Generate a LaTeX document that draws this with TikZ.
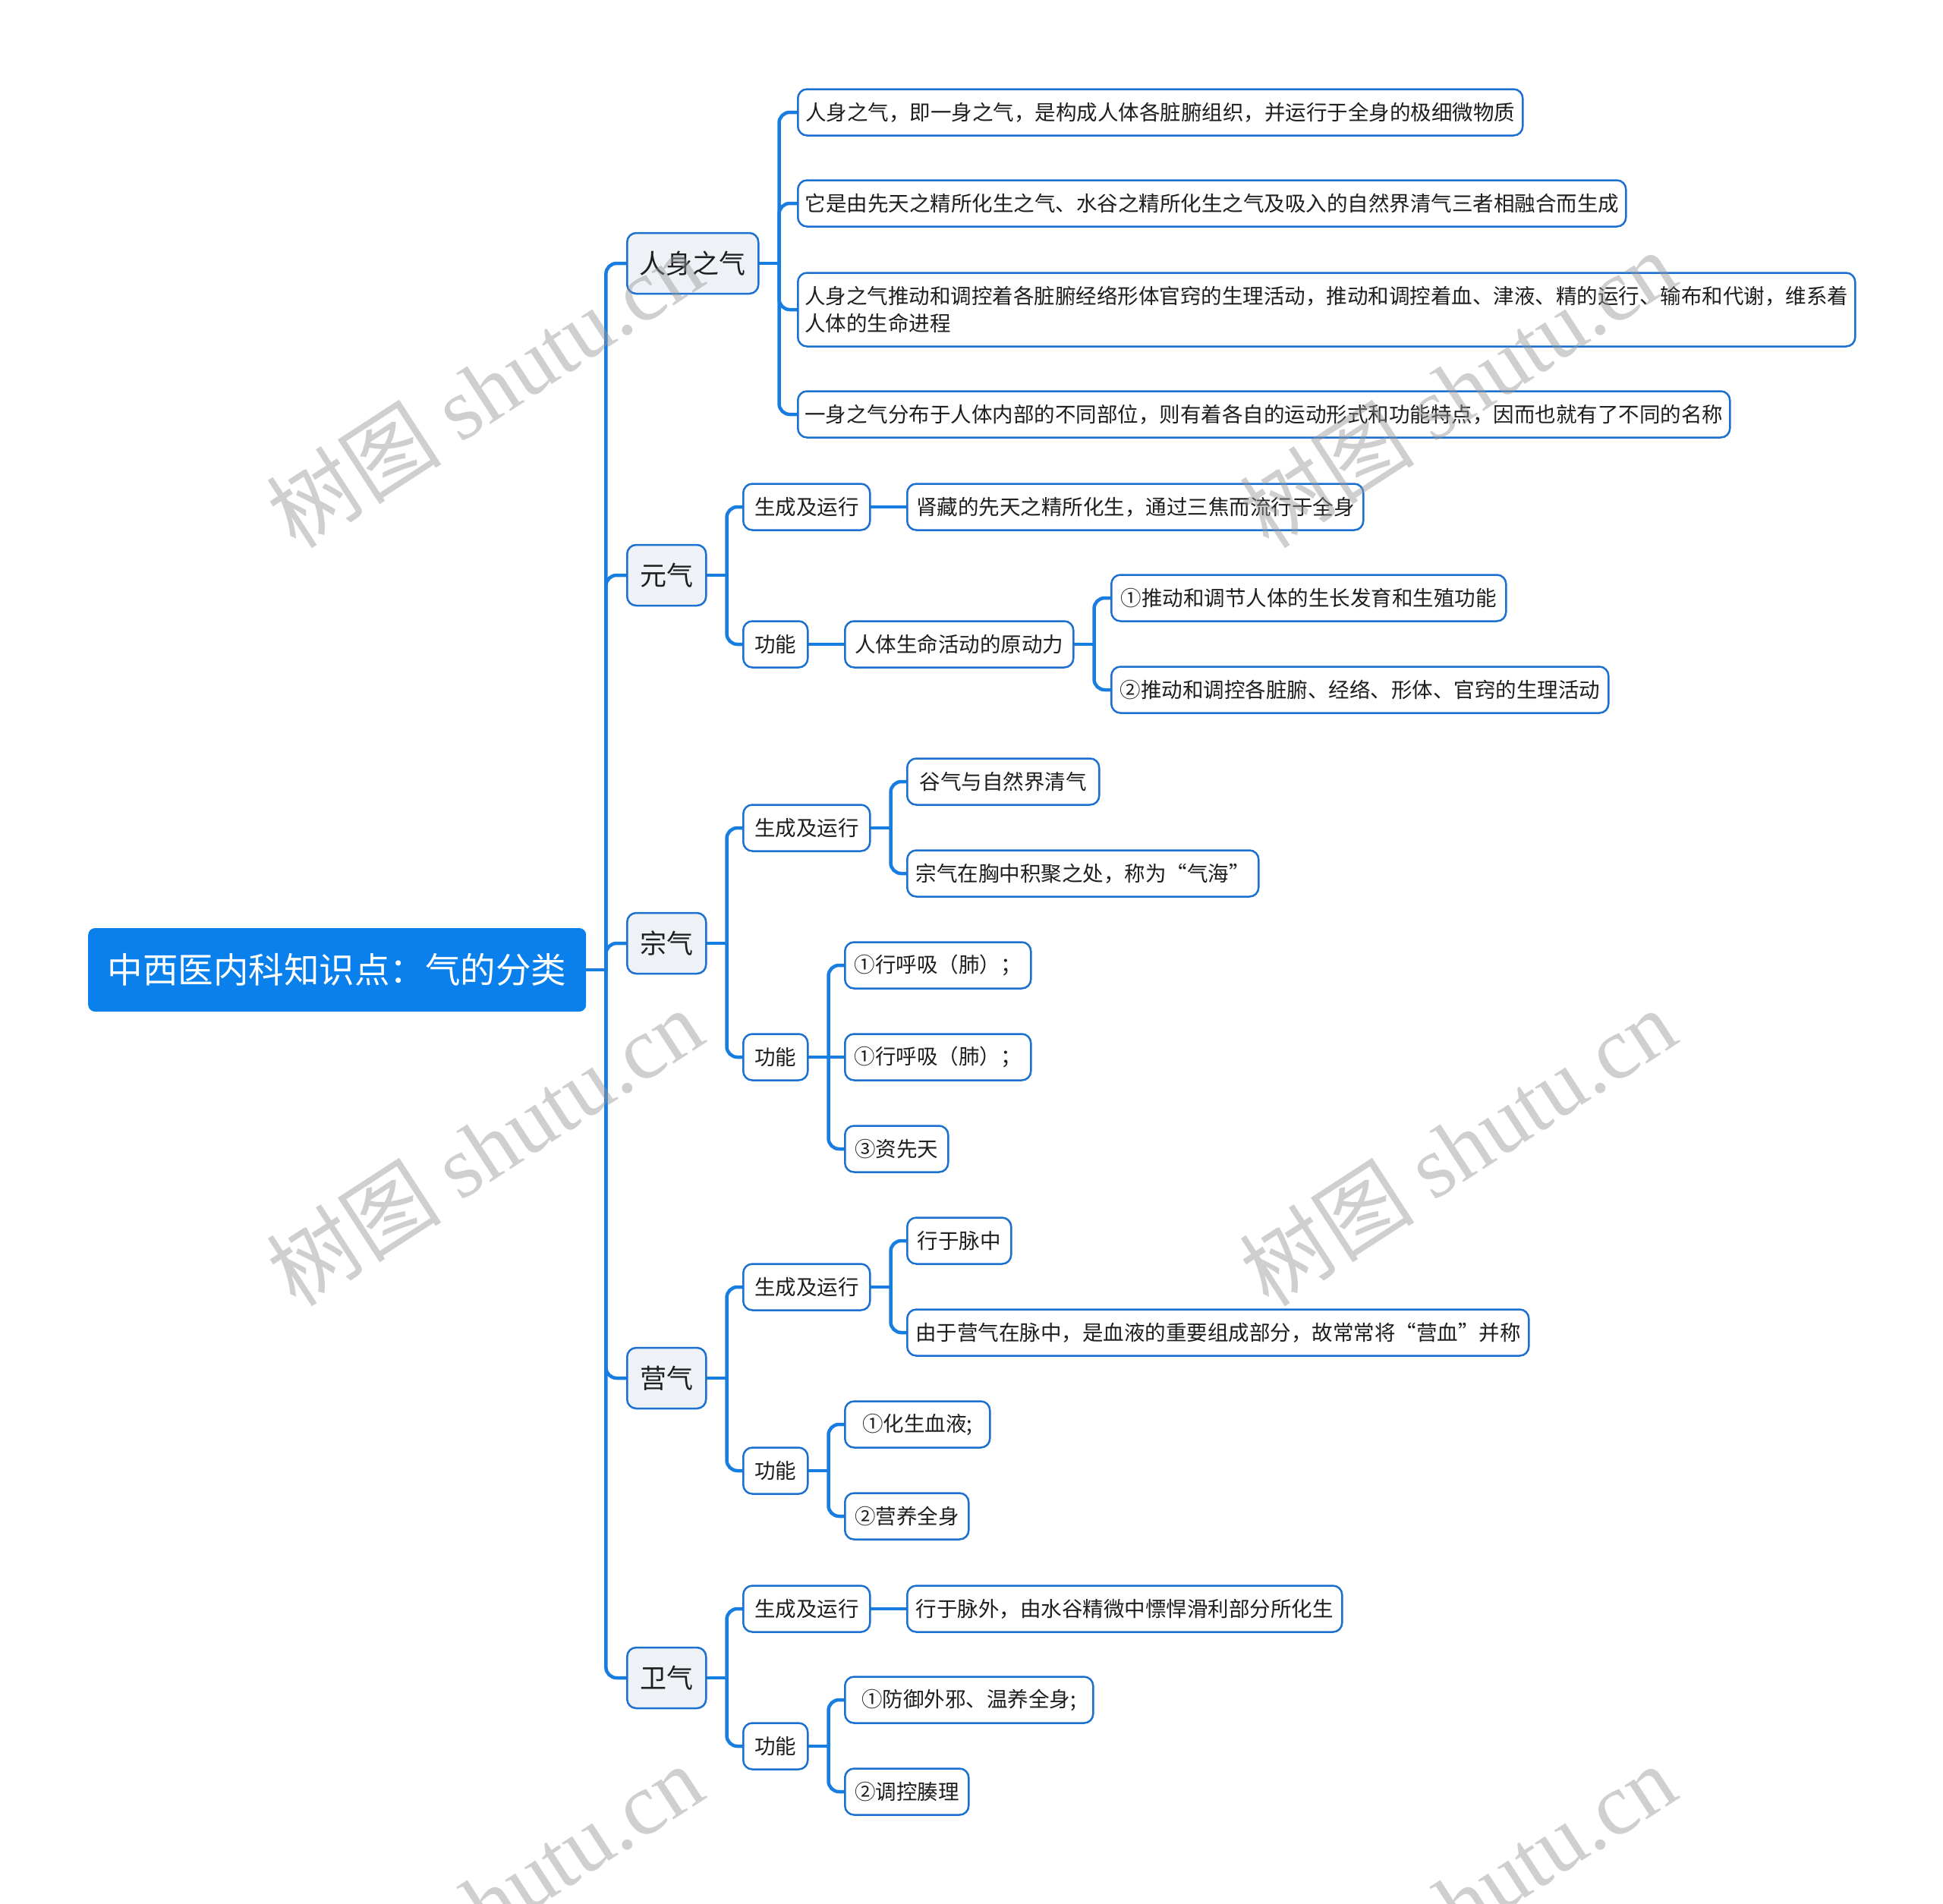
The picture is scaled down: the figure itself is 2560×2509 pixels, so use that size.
\documentclass[tikz,border=0pt]{standalone}
\usepackage{fontspec}
\setmainfont{Noto Sans CJK SC}
\newfontfamily\wmlatin{Liberation Serif}
\usetikzlibrary{backgrounds}
\definecolor{rootblue}{RGB}{10,128,236}
\definecolor{linkblue}{RGB}{24,125,225}
\definecolor{bordblue}{RGB}{28,112,208}
\definecolor{topicfill}{RGB}{238,242,247}
\definecolor{txt}{RGB}{30,30,30}
\definecolor{wmgray}{RGB}{150,150,150}
\tikzset{
  base/.style={anchor=west, rounded corners=12pt, inner xsep=0pt, inner ysep=0pt, align=center, text=txt},
  rootbox/.style={base, fill=rootblue, text=white, rounded corners=9pt, minimum height=110pt, font=\fontsize{46.5}{56}\selectfont},
  topic/.style={base, draw=bordblue, line width=2.5pt, fill=topicfill, minimum height=80pt, font=\fontsize{35}{42}\selectfont},
  leaf/.style={base, draw=bordblue, line width=2.5pt, fill=white, minimum height=61pt, font=\fontsize{27.5}{36}\selectfont},
  link/.style={draw=linkblue, line width=4.5pt, line cap=rect},
  elbowlink/.style={link, rounded corners=14pt},
  wmark/.style={text=wmgray, opacity=0.45, rotate=33, inner sep=0pt, font=\fontsize{116}{120}\selectfont}
}
\begin{document}
\begin{tikzpicture}[x=1pt,y=-1pt]
\useasboundingbox (0,0) rectangle (2560,2509);
\clip (0,0) rectangle (2560,2509);

% root
\node[rootbox, minimum width=656pt] (root) at (116,1278) {中西医内科知识点：气的分类};

% level 1
\node[topic, minimum width=173pt] (a) at (825,347) {人身之气};
\node[topic, minimum width=104pt] (b) at (825,758) {元气};
\node[topic, minimum width=104pt] (c) at (825,1243) {宗气};
\node[topic, minimum width=104pt] (d) at (825,1816) {营气};
\node[topic, minimum width=104pt] (e) at (825,2211) {卫气};

% 人身之气
\node[leaf, minimum width=955pt] (a1) at (1050,148) {人身之气，即一身之气，是构成人体各脏腑组织，并运行于全身的极细微物质};
\node[leaf, minimum width=1091pt] (a2) at (1050,268) {它是由先天之精所化生之气、水谷之精所化生之气及吸入的自然界清气三者相融合而生成};
\node[leaf, minimum width=1393pt, minimum height=97pt, align=left] (a3) at (1050,408) {人身之气推动和调控着各脏腑经络形体官窍的生理活动，推动和调控着血、津液、精的运行、输布和代谢，维系着\\人体的生命进程};
\node[leaf, minimum width=1228pt] (a4) at (1050,546) {一身之气分布于人体内部的不同部位，则有着各自的运动形式和功能特点，因而也就有了不同的名称};

% 元气
\node[leaf, minimum width=167pt] (b1) at (978,668) {生成及运行};
\node[leaf, minimum width=601pt] (b11) at (1194,668) {肾藏的先天之精所化生，通过三焦而流行于全身};
\node[leaf, minimum width=85pt] (b2) at (978,849) {功能};
\node[leaf, minimum width=301pt] (b21) at (1112,849) {人体生命活动的原动力};
\node[leaf, minimum width=520pt] (b211) at (1463,788) {①推动和调节人体的生长发育和生殖功能};
\node[leaf, minimum width=655pt] (b212) at (1463,909) {②推动和调控各脏腑、经络、形体、官窍的生理活动};

% 宗气
\node[leaf, minimum width=167pt] (c1) at (978,1091) {生成及运行};
\node[leaf, minimum width=253pt] (c11) at (1194,1030) {谷气与自然界清气};
\node[leaf, minimum width=463pt] (c12) at (1194,1151) {宗气在胸中积聚之处，称为“气海”};
\node[leaf, minimum width=85pt] (c2) at (978,1393) {功能};
\node[leaf, minimum width=245pt] (c21) at (1112,1272) {①行呼吸（肺）；};
\node[leaf, minimum width=245pt] (c22) at (1112,1393) {①行呼吸（肺）；};
\node[leaf, minimum width=136pt] (c23) at (1112,1514) {③资先天};

% 营气
\node[leaf, minimum width=167pt] (d1) at (978,1696) {生成及运行};
\node[leaf, minimum width=137pt] (d11) at (1194,1635) {行于脉中};
\node[leaf, minimum width=819pt] (d12) at (1194,1756) {由于营气在脉中，是血液的重要组成部分，故常常将“营血”并称};
\node[leaf, minimum width=85pt] (d2) at (978,1938) {功能};
\node[leaf, minimum width=191pt] (d21) at (1112,1877) {①化生血液;};
\node[leaf, minimum width=163pt] (d22) at (1112,1998) {②营养全身};

% 卫气
\node[leaf, minimum width=167pt] (e1) at (978,2120) {生成及运行};
\node[leaf, minimum width=573pt] (e11) at (1194,2120) {行于脉外，由水谷精微中慓悍滑利部分所化生};
\node[leaf, minimum width=85pt] (e2) at (978,2301) {功能};
\node[leaf, minimum width=327pt] (e21) at (1112,2240) {①防御外邪、温养全身;};
\node[leaf, minimum width=163pt] (e22) at (1112,2361) {②调控腠理};

% connectors
\begin{scope}[on background layer]
\fill[white] (0,0) rectangle (2560,2509);
\foreach \p in {root,a,b,b21,c,c1,c2,d,d1,d2,e,e2}
  \draw[link] (\p.east) -- ++(26,0) coordinate (j\p);
\foreach \p/\c in {root/a,root/b,root/c,root/d,root/e,
                   a/a1,a/a2,a/a3,a/a4,
                   b/b1,b/b2,b21/b211,b21/b212,
                   c/c1,c/c2,c1/c11,c1/c12,c2/c21,c2/c23,
                   d/d1,d/d2,d1/d11,d1/d12,d2/d21,d2/d22,
                   e/e1,e/e2,e2/e21,e2/e22}
  \draw[elbowlink] (j\p) |- (\c.west);
\draw[link] (jc2) -- (c22.west);
\foreach \p/\c in {b1/b11,b2/b21,e1/e11}
  \draw[link] (\p.east) -- (\c.west);
\end{scope}

% watermarks
\foreach \wx/\wy/\k in {638/512/1,1920/512/2,638/1511/3,1920/1511/4,638/2507/5,1920/2507/6}
  \node[wmark] (wm\k) at (\wx,\wy) {树图 {\wmlatin shutu.cn}};
\end{tikzpicture}
\end{document}
